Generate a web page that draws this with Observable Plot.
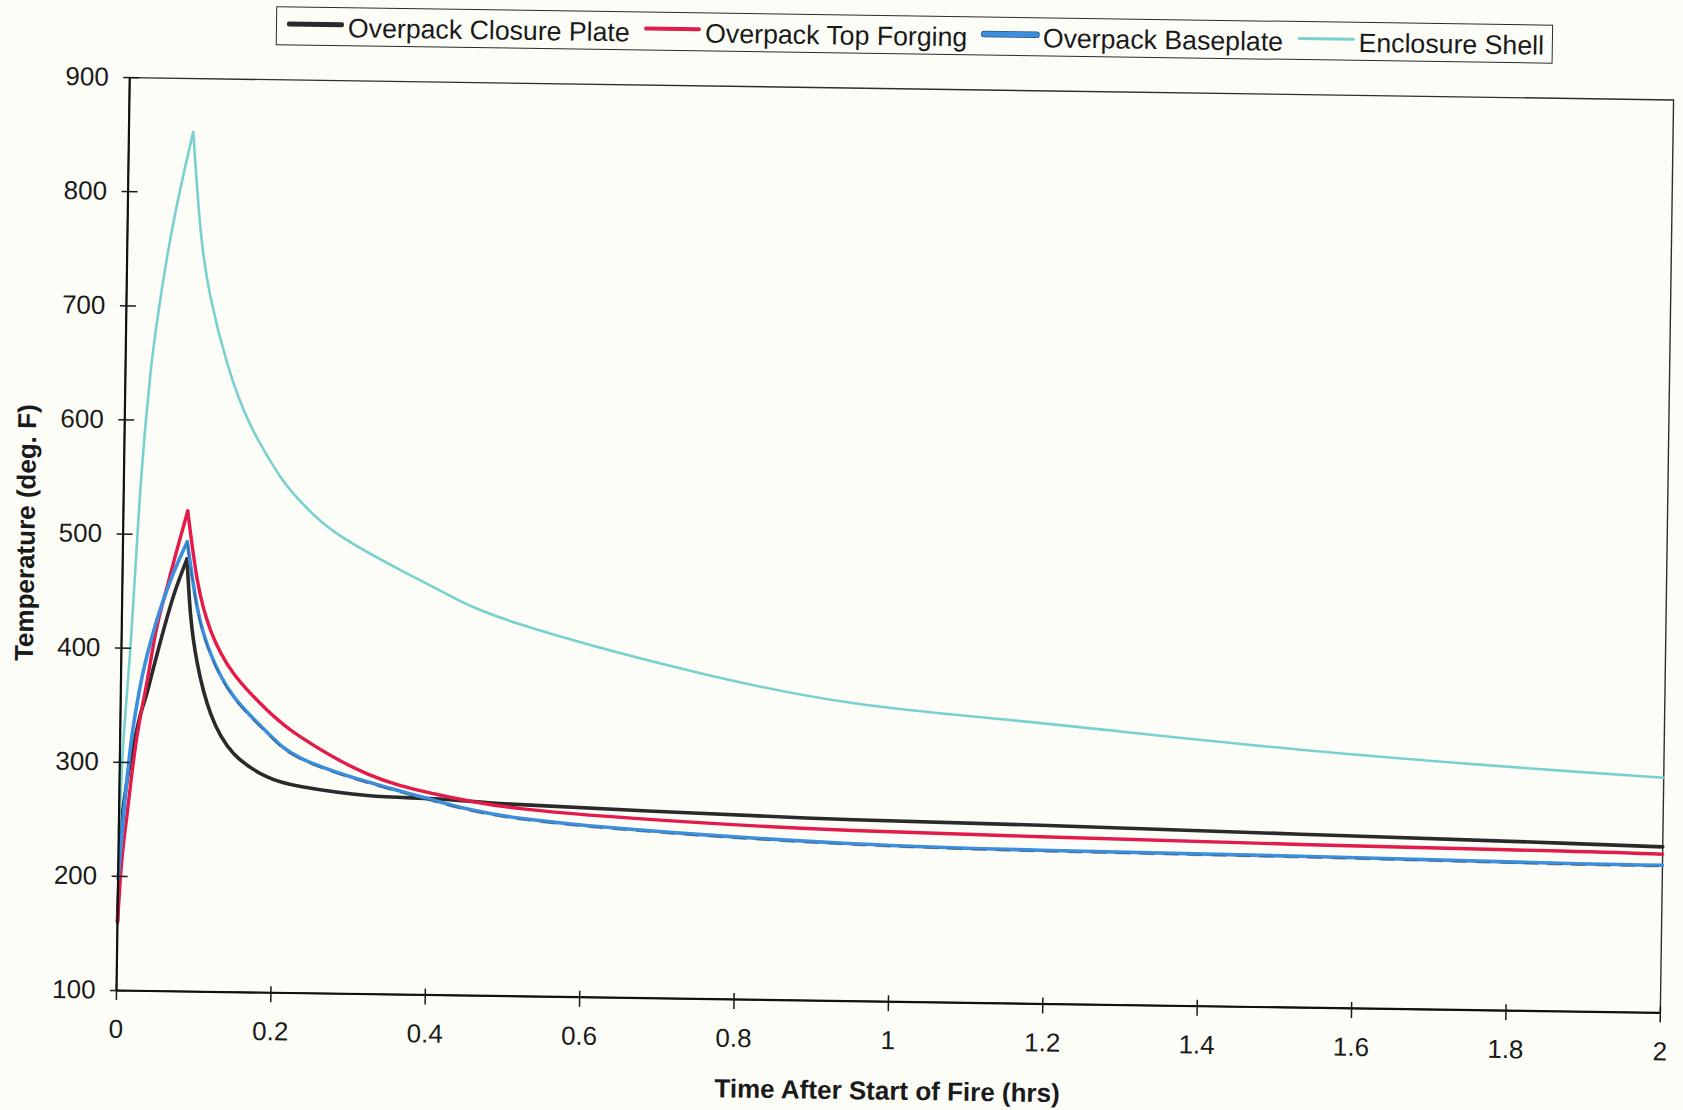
<!DOCTYPE html>
<html>
<head>
<meta charset="utf-8">
<script src="https://cdn.jsdelivr.net/npm/d3@7"></script>
<script src="https://cdn.jsdelivr.net/npm/@observablehq/plot@0.6"></script>
<style>
html,body{margin:0;padding:0;background:#fdfdf8;width:1683px;height:1110px;overflow:hidden;}
#page{position:absolute;left:0;top:0;width:1683px;height:1110px;transform:rotate(0.83deg);transform-origin:116px 990px;font-family:"Liberation Sans",Arial,sans-serif;color:#1a1a1a;}
#legend{position:absolute;left:262px;top:3.5px;width:1277px;height:39.5px;box-sizing:border-box;border:1.5px solid #2b2b2b;background:#fdfdf8;display:flex;align-items:center;padding:4px 0 0 10px;font-size:26.7px;white-space:nowrap;}
.sw{width:57px;border-radius:2px;margin-right:4px;transform:translateY(-4px);flex:none;}
.lab{margin-right:14.5px;}
#chart{position:absolute;left:0;top:50px;}
</style>
</head>
<body>
<div id="page">
  <div id="legend"></div>
  <div id="chart"></div>
</div>
<script>
// ---- data ----
const seriesNames = ["Overpack Closure Plate", "Overpack Top Forging", "Overpack Baseplate", "Enclosure Shell"];

const closureT = [0, 0.003, 0.008, 0.015, 0.025, 0.0335, 0.04, 0.048, 0.0667, 0.0833, 0.0888, 0.0984, 0.1166, 0.1475, 0.1912, 0.2346, 0.3211, 0.4075, 0.52, 0.736, 0.952, 1.194, 1.531, 1.868, 2.0];
const closureV = [160, 240, 275, 305, 340, 360, 378, 400, 447, 479, 431, 388, 344, 309, 289, 281, 274, 272, 268, 263, 259, 256.5, 252, 247.5, 245.5];

const forgingT = [0, 0.003, 0.0105, 0.020, 0.034, 0.0438, 0.0601, 0.0833, 0.0969, 0.115, 0.146, 0.19, 0.2336, 0.3207, 0.407, 0.52, 0.736, 0.952, 1.194, 1.531, 1.868, 2.0];
const forgingV = [160, 200, 255, 314, 372, 413, 460, 521, 461, 417, 379, 347.5, 324.5, 293, 276.5, 264.5, 255, 249.5, 246.5, 243, 240.5, 239];

const baseT = [0, 0.006, 0.0136, 0.0253, 0.0416, 0.0623, 0.0833, 0.0973, 0.1154, 0.1464, 0.1904, 0.234, 0.3208, 0.4075, 0.52, 0.736, 0.952, 1.194, 1.531, 1.868, 2.0];
const baseV = [198, 255, 313.5, 368, 416, 460, 494, 437, 396.6, 359, 328, 306, 286, 270.7, 256, 244.7, 238, 234.6, 232.6, 229.8, 229.4];

const shellT = [0, 0.003, 0.007, 0.0117, 0.0215, 0.0323, 0.0442, 0.0558, 0.070, 0.0833, 0.0946, 0.1087, 0.1316, 0.163, 0.2028, 0.2249, 0.2728, 0.36, 0.425, 0.516, 0.733, 0.95, 1.192, 1.529, 1.866, 2.0];
const shellV = [238, 300, 350, 401, 540, 640, 708, 760, 811, 853, 768, 709, 651, 597, 552, 534, 505, 472, 450, 426, 388, 361, 346, 326, 311, 306];

const xTicks = [0, 0.2, 0.4, 0.6, 0.8, 1, 1.2, 1.4, 1.6, 1.8, 2];
const xTickLabels = ["0", "0.2", "0.4", "0.6", "0.8", "1", "1.2", "1.4", "1.6", "1.8", "2"];
const yTicks = [100, 200, 300, 400, 500, 600, 700, 800, 900];
const yTickLabels = ["100", "200", "300", "400", "500", "600", "700", "800", "900"];

const xTitle = "Time After Start of Fire (hrs)";
const yTitle = "Temperature (deg. F)";

// ---- styles ----
const seriesColors = ["#2a2a2a", "#e31b4b", "#3b8fde", "#78d1cf"];
const seriesWidths = [3.6, 3.4, 3.6, 2.6];
const swatchHeights = [5, 4, 5, 3.5];

const seriesT = [closureT, forgingT, baseT, shellT];
const seriesV = [closureV, forgingV, baseV, shellV];

function rowsFor(i, seg) {
  const T = seriesT[i], V = seriesV[i];
  const pk = V.indexOf(Math.max(...V));
  const out = [];
  T.forEach((t, j) => {
    if (seg === "rise" ? j <= pk : j >= pk) out.push({t, v: V[j]});
  });
  return out;
}

const lineMarks = [];
seriesNames.forEach((name, i) => {
  const rise = rowsFor(i, "rise"), decay = rowsFor(i, "decay");
  const base = {x: "t", y: "v", stroke: seriesColors[i], strokeWidth: seriesWidths[i], strokeLinejoin: "round", strokeLinecap: "round"};
  lineMarks.push(Plot.line(rise, {...base, curve: "monotone-x"}));
  lineMarks.push(Plot.line(decay, {...base, curve: "natural"}));
  if (i === 2) {
    const dash = {x: "t", y: "v", stroke: "#333", strokeWidth: 1.2, strokeOpacity: 0.45, strokeDasharray: "14,10", dy: 1.6};
    lineMarks.push(Plot.line(decay, {...dash, curve: "natural"}));
  }
});

const chart = Plot.plot({
  width: 1683,
  height: 1060,
  marginLeft: 116,
  marginRight: 23,
  marginTop: 27,
  marginBottom: 120,
  style: {background: "transparent", fontFamily: '"Liberation Sans", Arial, sans-serif', fontSize: "26px", color: "#1a1a1a", overflow: "visible"},
  x: {domain: [xTicks[0], xTicks[xTicks.length - 1]]},
  y: {domain: [yTicks[0], yTicks[yTicks.length - 1]]},
  marks: [
    Plot.frame({stroke: "#2e2e2e", strokeWidth: 1.4}),
    ...lineMarks,
    Plot.ruleX([xTicks[0]], {stroke: "#111", strokeWidth: 2.2}),
    Plot.ruleY([yTicks[0]], {stroke: "#111", strokeWidth: 2.2}),
    Plot.axisX(xTicks, {tickSize: 16, dy: -6, fill: "none", stroke: "#1a1a1a", strokeWidth: 1.5, label: null}),
    Plot.axisX(xTicks, {tickSize: 0, tickPadding: 29, label: null, tickFormat: d => xTickLabels[xTicks.indexOf(d)]}),
    Plot.axisX([], {tickSize: 0, label: xTitle, labelAnchor: "center", labelOffset: 98, labelArrow: "none", fontWeight: "bold"}),
    Plot.axisY(yTicks, {tickSize: 16, dx: 10, fill: "none", stroke: "#1a1a1a", strokeWidth: 1.5, label: null}),
    Plot.axisY(yTicks, {tickSize: 0, tickPadding: 21, label: null, tickFormat: d => yTickLabels[yTicks.indexOf(d)]}),
    Plot.axisY([], {tickSize: 0, label: yTitle, labelAnchor: "center", labelOffset: 107, labelArrow: "none", fontWeight: "bold"})
  ]
});
document.getElementById("chart").appendChild(chart);

// ---- legend ----
const legend = document.getElementById("legend");
seriesNames.forEach((name, i) => {
  const sw = document.createElement("span");
  sw.className = "sw";
  sw.style.background = seriesColors[i];
  sw.style.height = swatchHeights[i] + "px";
  if (i === 2) sw.style.boxShadow = "0 0 0 0.8px #2a4f8a";
  legend.appendChild(sw);
  const lab = document.createElement("span");
  lab.className = "lab";
  lab.textContent = name;
  legend.appendChild(lab);
});
</script>
</body>
</html>
